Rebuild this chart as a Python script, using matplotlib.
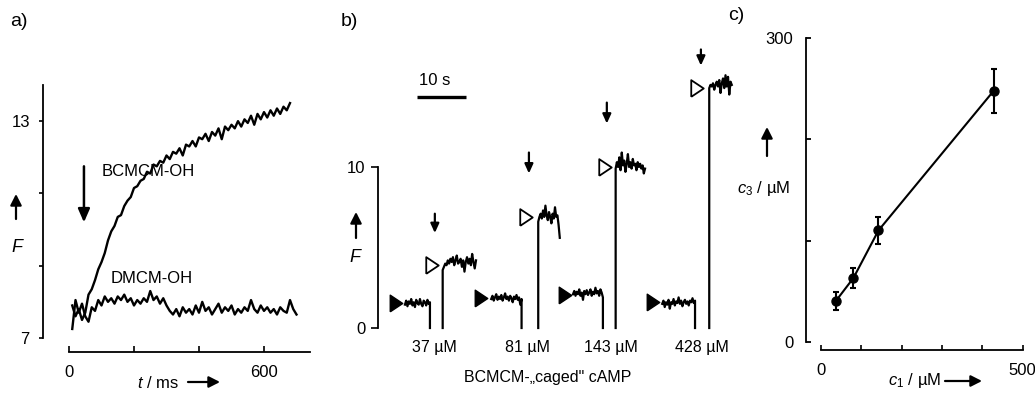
import numpy as np
import matplotlib
matplotlib.use("Agg")
import matplotlib.pyplot as plt

plt.rcParams['font.family'] = ['Liberation Sans', 'DejaVu Sans']
plt.rcParams['mathtext.fontset'] = 'custom'
plt.rcParams['mathtext.rm'] = 'Liberation Sans'
plt.rcParams['mathtext.it'] = 'Liberation Sans:italic'

# ---------------- panel a: F vs t (ms) ----------------
dmcm_t0, dmcm_t1 = 10, 700
dmcm_F = [7.25, 8.05, 7.7, 7.95, 7.6, 7.45, 7.85, 7.75, 8.05, 7.9,
          8.15, 8.0, 8.1, 7.95, 8.15, 8.05, 8.2, 8.0, 8.1, 7.9,
          8.05, 7.95, 8.1, 8.0, 8.3, 8.05, 8.15, 7.95, 8.1, 7.9,
          7.75, 7.65, 7.8, 7.6, 7.85, 7.7, 7.8, 7.65, 7.9, 7.7,
          8.0, 7.75, 7.85, 7.65, 7.8, 7.95, 7.7, 7.85, 7.75, 7.9,
          7.65, 7.8, 7.7, 7.85, 7.75, 8.05, 7.8, 7.7, 7.9, 7.75,
          7.85, 7.7, 7.8, 7.65, 7.85, 7.75, 7.7, 8.05, 7.8, 7.65]
bcmcm_t0, bcmcm_t1 = 10, 680
bcmcm_F = [7.9, 7.6, 7.8, 7.5, 7.7, 8.2, 8.35, 8.6, 8.9, 9.1,
           9.35, 9.7, 9.95, 10.1, 10.35, 10.4, 10.65, 10.8, 10.9, 11.15,
           11.2, 11.35, 11.4, 11.6, 11.55, 11.8, 11.75, 11.9, 11.85, 12.05,
           11.95, 12.15, 12.1, 12.25, 12.05, 12.35, 12.3, 12.45, 12.3, 12.55,
           12.5, 12.65, 12.45, 12.7, 12.6, 12.8, 12.5, 12.85, 12.75, 12.9,
           12.8, 13.0, 12.85, 13.05, 12.95, 13.15, 12.9, 13.2, 13.05, 13.25,
           13.1, 13.3, 13.15, 13.35, 13.2, 13.4, 13.3, 13.5]
flash_a_t = 46

# ---------------- panel b: F vs t (s) for four concentrations ----------------
conc_labels = ['37 µM', '81 µM', '143 µM', '428 µM']
conc_label_t = [11.6, 30.6, 47.6, 66.1]
base_start = [5.5, 23.1, 39.8, 58.0]
base_end = [10.6, 29.3, 45.9, 64.7]
base_F = [
    [1.45, 1.7, 1.35, 1.65, 1.5, 1.8, 1.4, 1.6, 1.3, 1.75, 1.55,
     1.45, 1.8, 1.5, 1.35, 1.7, 1.6, 1.4, 1.75, 1.5, 1.6],
    [1.8, 2.0, 1.7, 1.9, 2.1, 1.75, 1.95, 1.8, 2.05, 1.7, 1.9, 2.15,
     1.8, 1.95, 1.7, 2.0, 1.85, 1.6, 1.95, 1.8, 2.05, 1.75, 1.9, 1.45, 1.8],
    [2.1, 2.3, 2.0, 2.25, 2.1, 2.4, 2.0, 2.2, 1.75, 2.3, 2.1, 2.35,
     2.05, 2.2, 2.4, 2.0, 2.25, 2.1, 2.5, 2.15, 2.3, 2.0, 2.4, 2.2, 1.9],
    [1.5, 1.7, 1.3, 1.6, 1.45, 1.75, 1.2, 1.6, 1.5, 1.8, 1.4, 1.65, 1.55,
     1.9, 1.5, 1.7, 1.35, 1.6, 1.75, 1.5, 1.65, 1.4, 1.7, 1.6, 1.85, 1.55, 1.7],
]
jump_start = [13.2, 32.7, 48.5, 67.6]
jump_end = [20.0, 37.1, 54.5, 72.2]
jump_F = [
    [3.6, 3.8, 4.0, 3.9, 4.2, 4.0, 4.3, 4.1, 4.4, 3.9, 4.2, 4.5, 4.0, 4.1,
     4.3, 3.8, 4.2, 3.5, 4.1, 4.4, 4.0, 4.3, 3.9, 4.6, 4.1, 3.7, 4.2],
    [6.6, 6.9, 7.1, 6.8, 7.3, 6.9, 7.6, 7.0, 6.7, 7.2, 6.9, 6.5, 7.1,
     6.8, 7.5, 6.9, 7.0, 6.4, 5.6],
    [9.9, 10.3, 10.0, 10.6, 9.8, 10.9, 10.1, 10.4, 9.7, 10.2, 10.8, 10.0, 10.3,
     9.9, 10.5, 10.1, 10.2, 9.8, 10.3, 10.0, 10.2, 9.9, 10.1, 9.6, 9.9],
    [14.9, 15.1, 15.0, 15.2, 14.8, 15.1, 15.3, 15.0, 15.4, 14.6, 15.2, 15.5,
     14.9, 15.7, 15.0, 15.6, 14.5, 15.3, 15.1],
]
filled_t = [3.7, 21.0, 38.2, 56.1]
filled_F = [1.55, 1.85, 2.05, 1.6]
open_t = [11.0, 30.2, 46.3, 65.1]
open_F = [3.9, 6.9, 10.0, 14.9]
flash_t = [11.6, 30.8, 46.7, 65.9]
flash_top = [7.1, 10.9, 14.0, 17.3]
flash_bot = [5.9, 9.6, 12.7, 16.3]

# ---------------- panel c: c3 vs c1 ----------------
c1 = [37, 81, 143, 428]
c3 = [40, 63, 110, 248]
c3_err = [9, 9.5, 13, 22]

W, H = 1035, 394
fig = plt.figure(figsize=(W / 100, H / 100), dpi=100)


def fpos(px, py):
    return px / W, 1 - py / H


def rect(x0, x1, ytop, ybot):
    return [x0 / W, 1 - ybot / H, (x1 - x0) / W, (ybot - ytop) / H]


def fig_arrow(x0, y0, x1, y1, lw=1.6, hl=0.55, hw=0.28):
    fig.add_artist(matplotlib.patches.FancyArrowPatch(
        fpos(x0, y0), fpos(x1, y1), transform=fig.transFigure,
        arrowstyle='-|>,head_length=%g,head_width=%g' % (hl, hw),
        mutation_scale=12, lw=lw, color='black', shrinkA=0, shrinkB=0))


# closed right-pointing triangle, a bit taller than wide
tri = [(-0.75, -1), (-0.75, 1), (0.75, 0), (-0.75, -1)]
lab_fs = 12

# ---- a ----
ax = fig.add_axes(rect(69, 309.5, 85, 338))
t = np.linspace(dmcm_t0, dmcm_t1, len(dmcm_F))
ax.plot(t, dmcm_F, color='black', lw=1.7, clip_on=False)
t = np.linspace(bcmcm_t0, bcmcm_t1, len(bcmcm_F))
ax.plot(t, bcmcm_F, color='black', lw=1.7, clip_on=False)
ax.set_xlim(0, 740)
ax.set_ylim(7, 14)
for s in ['top', 'right']:
    ax.spines[s].set_visible(False)
ax.spines['left'].set_position(('outward', 18.7))
ax.spines['bottom'].set_position(('outward', 10.1))
ax.spines['left'].set_bounds(7, 14)
ax.spines['bottom'].set_bounds(0, 740)
for s in ['left', 'bottom']:
    ax.spines[s].set_linewidth(1.3)
ax.set_yticks([7, 9, 11, 13], ['7', '', '', '13'])
ax.set_xticks([0, 200, 400, 600], ['0', '', '', '600'])
ax.tick_params(axis='y', direction='out', length=3, width=1.2, pad=6.5, labelsize=lab_fs)
ax.tick_params(axis='x', direction='in', length=4, width=1.2, pad=9, labelsize=lab_fs)
ax.annotate('', xy=(flash_a_t, 10.2), xytext=(flash_a_t, 11.75),
            arrowprops=dict(arrowstyle='-|>,head_length=0.8,head_width=0.35',
                            lw=1.8, color='black', shrinkA=0, shrinkB=0))
ax.text(243, 11.6, 'BCMCM-OH', ha='center', va='center', fontsize=lab_fs)
ax.text(254, 8.65, 'DMCM-OH', ha='center', va='center', fontsize=lab_fs)

fig.text(*fpos(19, 22), 'a)', ha='center', va='center', fontsize=14)
fig_arrow(16, 219, 16, 194)
fig.text(*fpos(18, 247), '$F$', ha='center', va='center', fontsize=13)
fig.text(*fpos(158, 383), '$t$ / ms', ha='center', va='center', fontsize=lab_fs)
fig_arrow(188, 382, 220, 382)

# ---- b ----
bx = fig.add_axes(rect(378, 378 + 74 * 4.9, 328 - 18 * 16.1, 328))
for i in range(4):
    tb = np.linspace(base_start[i], base_end[i], len(base_F[i]))
    bx.plot(np.append(tb, tb[-1]), np.append(base_F[i], 0),
            color='black', lw=1.6, clip_on=False)
    tj = np.linspace(jump_start[i], jump_end[i], len(jump_F[i]))
    bx.plot(np.insert(tj, 0, tj[0]), np.insert(jump_F[i], 0, 0),
            color='black', lw=1.6, clip_on=False)
    bx.annotate('', xy=(flash_t[i], flash_bot[i]), xytext=(flash_t[i], flash_top[i]),
                arrowprops=dict(arrowstyle='-|>,head_length=0.55,head_width=0.25',
                                lw=1.6, color='black', shrinkA=0, shrinkB=0),
                annotation_clip=False)
    bx.text(conc_label_t[i], -1.2, conc_labels[i], ha='center', va='center',
            fontsize=11.5)
bx.plot(filled_t, filled_F, ls='none', marker=tri, ms=12, color='black',
        clip_on=False)
bx.plot(open_t, open_F, ls='none', marker=tri, ms=12, mfc='white', mec='black',
        mew=1.3, clip_on=False)
bx.plot([8, 18], [14.35, 14.35], color='black', lw=2.4, solid_capstyle='butt')
bx.text(11.6, 15.35, '10 s', ha='center', va='center', fontsize=lab_fs)
bx.text(34.7, -3.05, 'BCMCM-\u201ecaged" cAMP', ha='center', va='center',
        fontsize=11.5)
bx.set_xlim(0, 74)
bx.set_ylim(0, 18)
for s in ['top', 'right', 'bottom']:
    bx.spines[s].set_visible(False)
bx.spines['left'].set_bounds(0, 10)
bx.spines['left'].set_linewidth(1.3)
bx.set_xticks([])
bx.set_yticks([0, 10])
bx.tick_params(axis='y', direction='out', length=5, width=1.2, pad=4, labelsize=lab_fs)

fig.text(*fpos(349, 22), 'b)', ha='center', va='center', fontsize=14)
fig_arrow(356, 238, 356, 212)
fig.text(*fpos(356, 258), '$F$', ha='center', va='center', fontsize=13)

# ---- c ----
cx = fig.add_axes(rect(820.7, 1022.7, 38.3, 341.7))
cx.plot(c1, c3, color='black', lw=1.5, clip_on=False)
cx.errorbar(c1, c3, yerr=c3_err, fmt='o', color='black', ms=6.5, elinewidth=1.5,
            capsize=2.5, capthick=1.5, clip_on=False)
cx.set_xlim(0, 500)
cx.set_ylim(0, 300)
for s in ['top', 'right']:
    cx.spines[s].set_visible(False)
cx.spines['left'].set_position(('outward', 10.6))
cx.spines['bottom'].set_position(('outward', 6))
for s in ['left', 'bottom']:
    cx.spines[s].set_linewidth(1.3)
cx.set_yticks([0, 100, 200, 300], ['0', '', '', '300'])
cx.set_xticks([0, 100, 200, 300, 400, 500], ['0', '', '', '', '', '500'])
cx.tick_params(axis='y', direction='in', length=3.5, width=1.3, pad=9, labelsize=lab_fs)
cx.tick_params(axis='x', direction='in', length=3.5, width=1.2, pad=9, labelsize=lab_fs)

fig.text(*fpos(736, 15), 'c)', ha='center', va='center', fontsize=14)
fig_arrow(767, 156, 767, 127)
fig.text(*fpos(764, 188), '$c_3$ / µM', ha='center', va='center', fontsize=lab_fs)
fig.text(*fpos(915, 380), '$c_1$ / µM', ha='center', va='center', fontsize=lab_fs)
fig_arrow(945, 381, 982, 381)

fig.savefig('out.png', dpi=100)
